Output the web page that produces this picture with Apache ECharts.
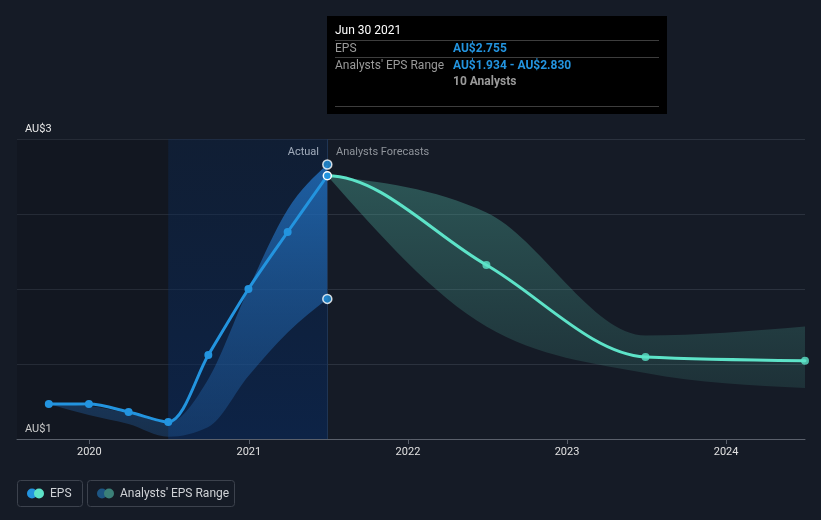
<!DOCTYPE html>
<html>
<head>
<meta charset="utf-8">
<script src="https://cdn.jsdelivr.net/npm/echarts@6/dist/echarts.min.js"></script>
<style>
html,body{margin:0;padding:0;background:#151b26;}
#chart{width:821px;height:520px;}
</style>
</head>
<body>
<div id="chart"></div>
<script>
// ---- data ----
const pastDates = ['2019-09-30','2019-12-31','2020-03-31','2020-06-30','2020-09-30','2020-12-31','2021-03-31','2021-06-30'];
const epsActual = [1.233, 1.233, 1.18, 1.113, 1.56, 2.0, 2.38, 2.755];
const rangeLowPast = [1.233, 1.16, 1.10, 1.015, 1.08, 1.42, 1.71, 1.934];
const rangeHighPast = [1.233, 1.22, 1.17, 1.11, 1.40, 2.0, 2.53, 2.830];
const forecastDates = ['2021-06-30','2022-06-30','2023-06-30','2024-06-30'];
const epsForecast = [2.755, 2.16, 1.547, 1.522];
const rangeLowFc = [2.755, 1.75, 1.44, 1.34];
const rangeHighFc = [2.755, 2.51, 1.69, 1.75];
const yTickLabels = {1: 'AU$1', 3: 'AU$3'};
const xMin = '2019-07-19';
const xMax = '2024-06-30';
const pastStart = '2020-06-30';
const nowDate = '2021-06-30';
const tooltipDate = 'Jun 30 2021';
const analystsCount = 10;

const lastIdx = epsActual.length - 1;
const BLUE = '#2394df', TEAL = '#5de3c8';
const FONT = 'Roboto, "Noto Sans", sans-serif';

// ---- monotone-x cubic helpers (pixel space) ----
function sgn(x) { return x < 0 ? -1 : 1; }
function tangents(p) {
  const n = p.length, t = new Array(n);
  if (n === 2) { const s = (p[1][1] - p[0][1]) / (p[1][0] - p[0][0]); t[0] = t[1] = s; return t; }
  for (let i = 1; i < n - 1; i++) {
    const h0 = p[i][0] - p[i-1][0], h1 = p[i+1][0] - p[i][0];
    const s0 = (p[i][1] - p[i-1][1]) / h0, s1 = (p[i+1][1] - p[i][1]) / h1;
    const q = (s0 * h1 + s1 * h0) / (h0 + h1);
    t[i] = (sgn(s0) + sgn(s1)) * Math.min(Math.abs(s0), Math.abs(s1), 0.5 * Math.abs(q)) || 0;
  }
  const sA = (p[1][1] - p[0][1]) / (p[1][0] - p[0][0]);
  t[0] = (3 * sA - t[1]) / 2;
  const sB = (p[n-1][1] - p[n-2][1]) / (p[n-1][0] - p[n-2][0]);
  t[n-1] = (3 * sB - t[n-2]) / 2;
  return t;
}
function segments(p, t, from) {
  const out = [];
  for (let i = from || 0; i < p.length - 1; i++) {
    const dx = (p[i+1][0] - p[i][0]) / 3;
    out.push({a: p[i], c1: [p[i][0] + dx, p[i][1] + dx * t[i]], c2: [p[i+1][0] - dx, p[i+1][1] - dx * t[i+1]], b: p[i+1]});
  }
  return out;
}
function f(v) { return v.toFixed(2); }
function linePath(segs) {
  let d = 'M' + f(segs[0].a[0]) + ' ' + f(segs[0].a[1]);
  segs.forEach(s => { d += ' C' + f(s.c1[0]) + ' ' + f(s.c1[1]) + ' ' + f(s.c2[0]) + ' ' + f(s.c2[1]) + ' ' + f(s.b[0]) + ' ' + f(s.b[1]); });
  return d;
}
function bandPath(up, lo) {
  let d = linePath(up);
  const last = lo[lo.length - 1].b;
  d += ' L' + f(last[0]) + ' ' + f(last[1]);
  for (let i = lo.length - 1; i >= 0; i--) {
    const s = lo[i];
    d += ' C' + f(s.c2[0]) + ' ' + f(s.c2[1]) + ' ' + f(s.c1[0]) + ' ' + f(s.c1[1]) + ' ' + f(s.a[0]) + ' ' + f(s.a[1]);
  }
  return d + ' Z';
}
function pts(api, xs, ys) { return xs.map((x, i) => api.coord([+new Date(x), ys[i]])); }

function bandSeries(xs, lo, hi, fill) {
  return {
    type: 'custom', coordinateSystem: 'cartesian2d', silent: true, z: 2,
    data: [[xs[0], lo[0]]],
    renderItem: (params, api) => {
      const pu = pts(api, xs, hi), pl = pts(api, xs, lo);
      const d = bandPath(segments(pu, tangents(pu)), segments(pl, tangents(pl)));
      return {type: 'path', shape: {pathData: d}, style: {fill: fill, stroke: null}};
    }
  };
}

const chart = echarts.init(document.getElementById('chart'), null, {renderer: 'canvas'});

const option = {
  backgroundColor: '#151b26',
  animation: false,
  textStyle: {fontFamily: FONT},
  grid: {left: 17, right: 16, top: 139, bottom: 81},
  xAxis: {
    type: 'time', min: xMin, max: xMax,
    minInterval: 365 * 24 * 3600 * 1000,
    axisLine: {lineStyle: {color: '#5a606b', width: 1}},
    axisTick: {show: true, length: 5, lineStyle: {color: '#5a606b'}},
    splitLine: {show: false},
    axisLabel: {color: '#e0e0e0', fontSize: 11, margin: 8, formatter: '{yyyy}', fontFamily: FONT}
  },
  yAxis: {
    type: 'value', min: 1, max: 3, interval: 0.5,
    axisLine: {show: false}, axisTick: {show: false},
    splitLine: {lineStyle: {color: '#2b323e', width: 1}},
    axisLabel: {
      inside: true, margin: 8, color: '#e8e8e8', fontSize: 11, fontFamily: FONT,
      verticalAlign: 'bottom', padding: [0, 0, 4, 0],
      formatter: v => yTickLabels[v] || ''
    }
  },
  series: [
    {
      type: 'line', name: 'bg', data: [], silent: true,
      markArea: {
        silent: true,
        data: [
          [{xAxis: xMin, itemStyle: {color: 'rgba(0,0,0,0.13)'}}, {xAxis: pastStart}],
          [{xAxis: pastStart, itemStyle: {color: {type: 'linear', x: 0, y: 0, x2: 0, y2: 1,
            colorStops: [{offset: 0, color: 'rgba(8,35,75,0.38)'}, {offset: 1, color: 'rgba(8,40,90,0.62)'}]}}},
           {xAxis: nowDate}]
        ]
      },
      markLine: {
        silent: true, symbol: 'none', label: {show: false},
        lineStyle: {color: '#1f3554', width: 1, type: 'solid'},
        data: [{xAxis: nowDate}]
      }
    },
    bandSeries(pastDates, rangeLowPast, rangeHighPast, {type: 'linear', x: 0, y: 0, x2: 0, y2: 1,
      colorStops: [{offset: 0, color: 'rgba(35,120,205,0.72)'}, {offset: 1, color: 'rgba(35,100,170,0.32)'}]}),
    bandSeries(forecastDates, rangeLowFc, rangeHighFc, {type: 'linear', x: 0, y: 0, x2: 0, y2: 1,
      colorStops: [{offset: 0, color: 'rgba(75,165,150,0.42)'}, {offset: 1, color: 'rgba(75,165,150,0.16)'}]}),
    // forecast EPS line (continuing the actual series so the tangent at "now" is shared)
    {
      type: 'custom', coordinateSystem: 'cartesian2d', silent: true, z: 3,
      data: [[forecastDates[0], epsForecast[0]]],
      renderItem: (params, api) => {
        const xs = [pastDates[lastIdx - 1]].concat(forecastDates);
        const ys = [epsActual[lastIdx - 1]].concat(epsForecast);
        const p = pts(api, xs, ys);
        const d = linePath(segments(p, tangents(p), 1));
        return {type: 'path', shape: {pathData: d}, style: {fill: null, stroke: TEAL, lineWidth: 3, lineCap: 'round'}};
      }
    },
    {
      type: 'scatter', symbolSize: 8, z: 4,
      data: forecastDates.slice(1).map((x, i) => [x, epsForecast[i + 1]]),
      itemStyle: {color: TEAL}
    },
    // actual EPS
    {
      type: 'line', name: 'EPS', smooth: 0.3, z: 5,
      data: epsActual.map((v, i) => i === lastIdx
        ? {value: [pastDates[i], v], itemStyle: {borderColor: '#ffffff', borderWidth: 1.5}}
        : [pastDates[i], v]),
      symbol: 'circle', symbolSize: 8,
      lineStyle: {color: BLUE, width: 3}, itemStyle: {color: BLUE}
    },
    // range end points at "now"
    {
      type: 'scatter', symbolSize: 9, z: 5,
      data: [[nowDate, rangeHighPast[lastIdx]], [nowDate, rangeLowPast[lastIdx]]],
      itemStyle: {color: BLUE, borderColor: '#ffffff', borderWidth: 1.5}
    }
  ],
  graphic: [
    {type: 'text', x: 319, y: 152,
     style: {text: 'Actual', fill: '#ffffff', font: '11px ' + FONT, textAlign: 'right', textVerticalAlign: 'middle'}},
    {type: 'text', x: 336, y: 152,
     style: {text: 'Analysts Forecasts', fill: '#8f949b', font: '11px ' + FONT, textAlign: 'left', textVerticalAlign: 'middle'}},
    // tooltip box
    {type: 'group', x: 327, y: 16, children: [
      {type: 'rect', shape: {x: 0, y: 0, width: 340, height: 98}, style: {fill: '#000000'}},
      {type: 'text', x: 8, y: 15, style: {text: tooltipDate, fill: '#ffffff', font: '12px ' + FONT, textVerticalAlign: 'middle'}},
      {type: 'line', shape: {x1: 8, y1: 24.5, x2: 332, y2: 24.5}, style: {stroke: '#3d3d3d', lineWidth: 1}},
      {type: 'text', x: 8, y: 32.5, style: {text: 'EPS', fill: '#9a9a9a', font: '12px ' + FONT, textVerticalAlign: 'middle'}},
      {type: 'text', x: 126, y: 32.5, style: {text: 'AU$' + epsActual[lastIdx].toFixed(3), fill: BLUE, font: 'bold 12px ' + FONT, textVerticalAlign: 'middle'}},
      {type: 'line', shape: {x1: 8, y1: 41.5, x2: 332, y2: 41.5}, style: {stroke: '#3d3d3d', lineWidth: 1}},
      {type: 'text', x: 8, y: 49.5, style: {text: "Analysts' EPS Range", fill: '#9a9a9a', font: '12px ' + FONT, textVerticalAlign: 'middle'}},
      {type: 'text', x: 126, y: 49.5, style: {text: 'AU$' + rangeLowPast[lastIdx].toFixed(3) + ' - AU$' + rangeHighPast[lastIdx].toFixed(3), fill: BLUE, font: 'bold 12px ' + FONT, textVerticalAlign: 'middle'}},
      {type: 'text', x: 126, y: 66, style: {text: analystsCount + ' Analysts', fill: '#9a9a9a', font: 'bold 12px ' + FONT, textVerticalAlign: 'middle'}},
      {type: 'line', shape: {x1: 8, y1: 90.5, x2: 332, y2: 90.5}, style: {stroke: '#3d3d3d', lineWidth: 1}}
    ]},
    // legend
    {type: 'group', x: 17, y: 480, children: [
      {type: 'rect', shape: {x: 0.5, y: 0.5, width: 65, height: 26, r: 3}, style: {fill: 'transparent', stroke: '#3c424d', lineWidth: 1}},
      {type: 'circle', shape: {cx: 15, cy: 13.5, r: 5}, style: {fill: BLUE}},
      {type: 'circle', shape: {cx: 22, cy: 13.5, r: 5}, style: {fill: TEAL}},
      {type: 'text', x: 33, y: 13.5, style: {text: 'EPS', fill: '#cfd2d6', font: '12px ' + FONT, textVerticalAlign: 'middle'}},
      {type: 'rect', shape: {x: 70.5, y: 0.5, width: 147, height: 26, r: 3}, style: {fill: 'transparent', stroke: '#3c424d', lineWidth: 1}},
      {type: 'circle', shape: {cx: 85, cy: 13.5, r: 5}, style: {fill: '#1d5582'}},
      {type: 'circle', shape: {cx: 92, cy: 13.5, r: 5}, style: {fill: '#3b8078'}},
      {type: 'text', x: 103, y: 13.5, style: {text: "Analysts' EPS Range", fill: '#cfd2d6', font: '12px ' + FONT, textVerticalAlign: 'middle'}}
    ]}
  ]
};
chart.setOption(option);
</script>
</body>
</html>
